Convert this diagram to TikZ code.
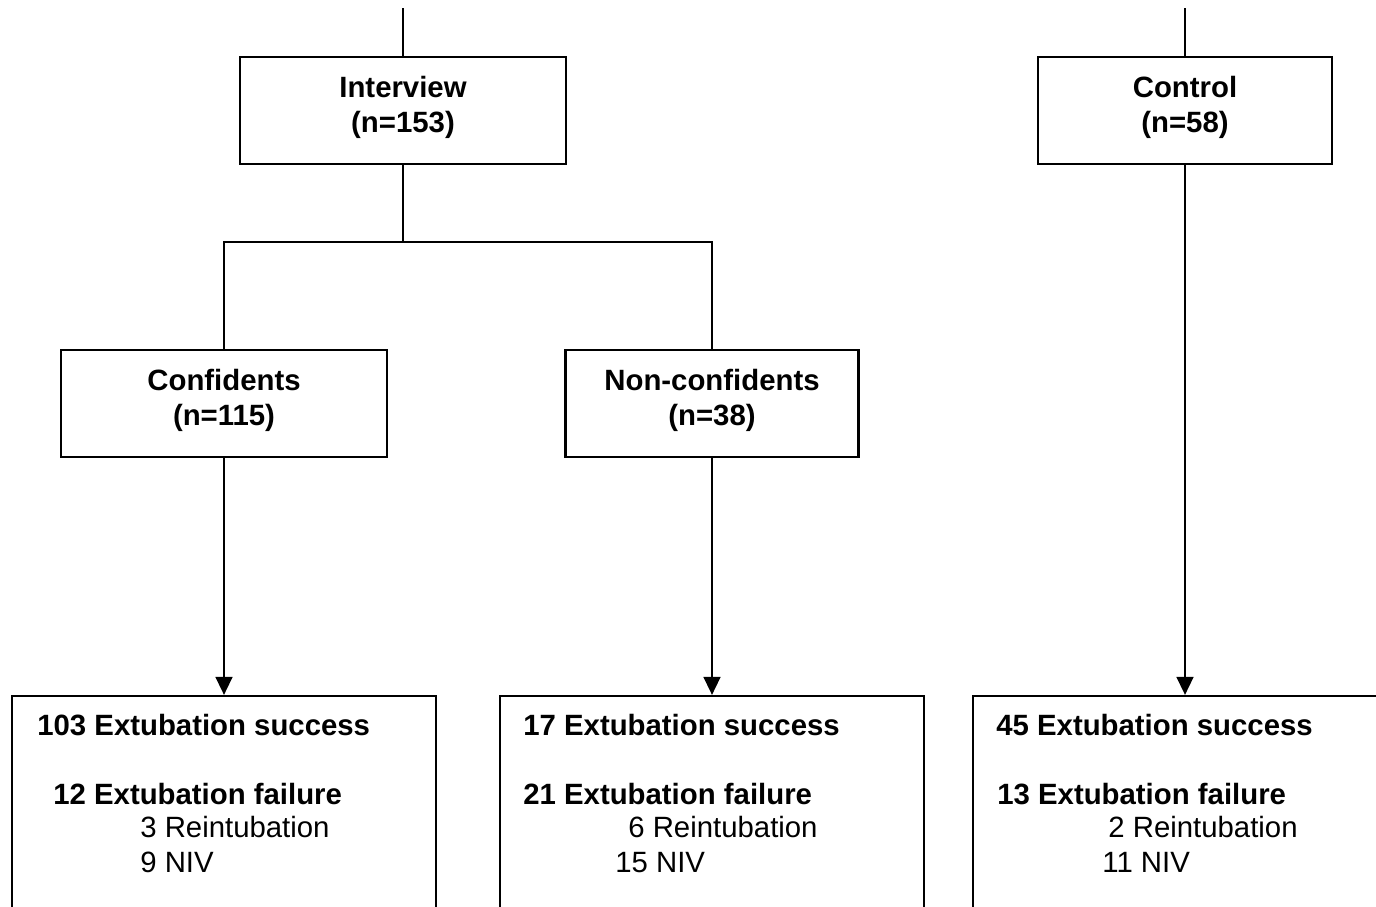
\documentclass[tikz,border=0pt]{standalone}
\usepackage{fontspec}
\setmainfont{Liberation Sans}
\usetikzlibrary{arrows.meta,positioning}

\begin{document}
\begin{tikzpicture}[
  font=\fontsize{16.7}{20}\selectfont,
  group/.style={
    draw, line width=1.6pt, align=center, inner sep=0pt, text depth=2.4mm,
    minimum height=21.4mm, font=\fontsize{16.7}{20}\selectfont\bfseries
  },
  outcome/.style={draw, line width=1.3pt, inner sep=0pt,
                  minimum width=84.8mm, minimum height=46.8mm},
  head/.style={anchor=base west, inner sep=0pt,
               font=\fontsize{16.7}{20}\selectfont\bfseries},
  sub/.style={anchor=base west, inner sep=0pt},
  tree/.style={line width=1.5pt},
  flow/.style={-{Triangle[length=3.6mm, width=3.4mm]}, line width=0.9pt},
]

\path[use as bounding box, clip] (0,0) rectangle (27.52,-18.12);

% ---- groups -------------------------------------------------------------
\node[group, minimum width=65.2mm] (interview) at ( 8.06, -2.21)
  {Interview\\(n=153)};
\node[group, minimum width=58.8mm] (control)   at (23.70, -2.21)
  {Control\\(n=58)};

\node[group, minimum width=65.2mm] (conf)    at ( 4.48, -8.07)
  {Confidents\\(n=115)};
\node[group, minimum width=58.6mm] (nonconf) at (14.24, -8.07)
  {Non-confidents\\(n=38)};

\coordinate (inTop)   at ( 8.06, -0.16);
\coordinate (ctTop)   at (23.70, -0.16);
\coordinate (split)   at ( 8.06, -4.84);

\draw[tree] (inTop) -- (interview.north);
\draw[tree] (ctTop) -- (control.north);
\draw[tree] (interview.south) -- (split);
\draw[tree] (conf.north) |- (split) -| (nonconf.north);

% ---- outcomes -----------------------------------------------------------
\node[outcome] (res1) at ( 4.48, -16.26) {};
\node[outcome] (res2) at (14.24, -16.26) {};
\node[outcome] (res3) at (23.70, -16.26) {};

\draw[flow] (conf.south)    -- (res1.north);
\draw[flow] (nonconf.south) -- (res2.north);
\draw[flow] (control.south) -- (res3.north);

\node[head] (succ1) at ( 0.74, -14.70) {103 Extubation success};
\node[head] (fail1) at ( 1.06, -16.08) {12 Extubation failure};
\node[sub]  (rein1) at ( 2.80, -16.74) {3 Reintubation};
\node[sub]  (niv1)  at ( 2.80, -17.44) {9 NIV};

\node[head] (succ2) at (10.46, -14.70) {17 Extubation success};
\node[head] (fail2) at (10.46, -16.08) {21 Extubation failure};
\node[sub]  (rein2) at (12.56, -16.74) {6 Reintubation};
\node[sub]  (niv2)  at (12.30, -17.44) {15 NIV};

\node[head] (succ3) at (19.92, -14.70) {45 Extubation success};
\node[head] (fail3) at (19.94, -16.08) {13 Extubation failure};
\node[sub]  (rein3) at (22.16, -16.74) {2 Reintubation};
\node[sub]  (niv3)  at (22.04, -17.44) {11 NIV};

\end{tikzpicture}
\end{document}
